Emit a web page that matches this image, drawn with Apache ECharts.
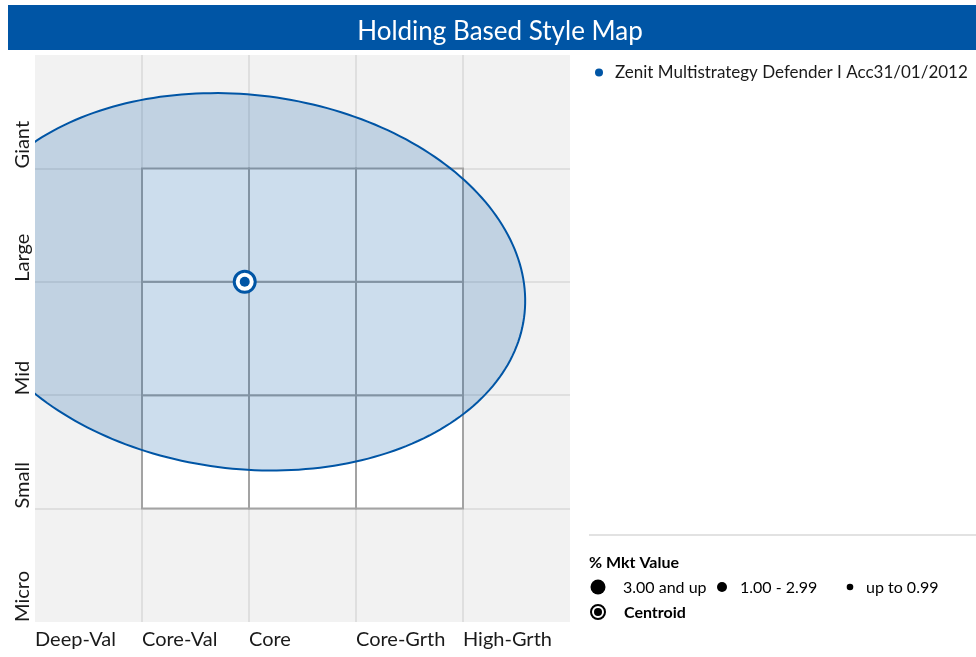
<!DOCTYPE html>
<html>
<head>
<meta charset="utf-8">
<title>Holding Based Style Map</title>
<script src="https://cdn.jsdelivr.net/npm/echarts@6/dist/echarts.min.js"></script>
<style>
  html, body { margin: 0; padding: 0; background: #fff; }
  #chart { width: 976px; height: 657px; }
</style>
</head>
<body>
<div id="chart"></div>
<script>
const styleLabels = ["Deep-Val", "Core-Val", "Core", "Core-Grth", "High-Grth"]
const sizeLabels = ["Micro", "Small", "Mid", "Large", "Giant"]

// core 3x3 box, cells as [styleIndex, sizeIndex]
const boxCells = [[1, 1], [2, 1], [3, 1], [1, 2], [2, 2], [3, 2], [1, 3], [2, 3], [3, 3]]

const fundName = "Zenit Multistrategy Defender I Acc31/01/2012"
// centroid in style / size units
const centroid = [1.96, 3.0]
// holdings ellipse: [cx, cy, semi-major, semi-minor, rotation in degrees]
const ellipse = [1.95, 3.0, 2.64, 1.65, -6]

const bucketLabels = ["3.00 and up", "1.00 - 2.99", "up to 0.99"]

const blue = "#0055a5"
const font = "Lato, 'Open Sans', sans-serif"

const chart = echarts.init(document.getElementById("chart"))

function renderCell(params, api) {
  const p0 = api.coord([api.value(0), api.value(1)])
  const p1 = api.coord([api.value(0) + 1, api.value(1) + 1])
  return {
    type: "rect",
    shape: { x: p0[0], y: p1[1], width: p1[0] - p0[0], height: p0[1] - p1[1] },
    style: { fill: "#fff", stroke: "#a3a3a3", lineWidth: 2 }
  }
}

function renderEllipse(params, api) {
  const cx = api.value(0)
  const cy = api.value(1)
  const a = api.value(2)
  const b = api.value(3)
  const rot = (api.value(4) * Math.PI) / 180
  const pts = []
  for (let i = 0; i < 240; i++) {
    const t = (i / 240) * Math.PI * 2
    const ex = a * Math.cos(t)
    const ey = b * Math.sin(t)
    pts.push(api.coord([
      cx + ex * Math.cos(rot) - ey * Math.sin(rot),
      cy + ex * Math.sin(rot) + ey * Math.cos(rot)
    ]))
  }
  return {
    type: "polygon",
    shape: { points: pts },
    style: { fill: "rgba(0, 85, 165, 0.2)", stroke: blue, lineWidth: 2 }
  }
}

const options = {
  animation: false,
  textStyle: { fontFamily: font },
  title: {
    text: "Holding Based Style Map",
    left: 495,
    top: 14,
    textAlign: "center",
    textStyle: { color: "#fff", fontSize: 26, fontWeight: "normal", fontFamily: font }
  },
  legend: {
    data: [fundName],
    left: 590,
    top: 59,
    icon: "circle",
    itemWidth: 14,
    itemHeight: 8,
    selectedMode: false,
    textStyle: { fontSize: 17, color: "#1a1a1a", padding: [0, 0, 0, 4], fontFamily: font }
  },
  grid: {
    left: 35,
    top: 55,
    width: 535,
    height: 567,
    show: true,
    backgroundColor: "#f2f2f2",
    borderWidth: 0
  },
  xAxis: {
    type: "value",
    min: 0,
    max: 5,
    interval: 1,
    axisLine: { show: false },
    axisTick: { show: false },
    splitLine: { show: true, showMinLine: false, showMaxLine: false, lineStyle: { color: "#d9d9d9", width: 1.5 } },
    axisLabel: {
      margin: 8,
      align: "left",
      fontSize: 20,
      color: "#1a1a1a",
      fontFamily: font,
      formatter: (v) => styleLabels[v] || ""
    }
  },
  yAxis: {
    type: "value",
    min: 0,
    max: 5,
    interval: 1,
    axisLine: { show: false },
    axisTick: { show: false },
    splitLine: { show: true, showMinLine: false, showMaxLine: false, lineStyle: { color: "#d9d9d9", width: 1.5 } },
    axisLabel: {
      margin: 12,
      rotate: 90,
      align: "left",
      verticalAlign: "middle",
      fontSize: 20,
      color: "#1a1a1a",
      fontFamily: font,
      formatter: (v) => sizeLabels[v] || ""
    }
  },
  series: [
    {
      name: "box",
      type: "custom",
      renderItem: renderCell,
      data: boxCells,
      z: 2,
      silent: true
    },
    {
      name: "ellipse",
      type: "custom",
      renderItem: renderEllipse,
      dimensions: ["x", "y", "a", "b", "rot"],
      encode: { x: 0, y: 1 },
      data: [ellipse],
      clip: true,
      z: 3,
      silent: true
    },
    {
      name: "centroid ring",
      type: "scatter",
      data: [centroid],
      symbolSize: 21,
      itemStyle: { color: "#fff", borderColor: blue, borderWidth: 3, opacity: 1 },
      z: 4,
      silent: true
    },
    {
      name: fundName,
      type: "scatter",
      data: [centroid],
      symbolSize: 10,
      itemStyle: { color: blue, opacity: 1 },
      z: 5,
      silent: true
    }
  ],
  graphic: [
    { type: "rect", shape: { x: 8, y: 5, width: 968, height: 45 }, style: { fill: blue }, z: -1 },
    { type: "line", shape: { x1: 589, y1: 535, x2: 976, y2: 535 }, style: { stroke: "#d9d9d9", lineWidth: 1.5 } },
    { type: "text", x: 589, y: 563, style: { text: "% Mkt Value", font: "bold 16px " + font, fill: "#000", textVerticalAlign: "middle" } },
    { type: "circle", shape: { cx: 598, cy: 587, r: 7.5 }, style: { fill: "#000" } },
    { type: "text", x: 623, y: 588, style: { text: bucketLabels[0], font: "16px " + font, fill: "#000", textVerticalAlign: "middle" } },
    { type: "circle", shape: { cx: 722, cy: 587, r: 5 }, style: { fill: "#000" } },
    { type: "text", x: 740, y: 588, style: { text: bucketLabels[1], font: "16px " + font, fill: "#000", textVerticalAlign: "middle" } },
    { type: "circle", shape: { cx: 850, cy: 587, r: 3.3 }, style: { fill: "#000" } },
    { type: "text", x: 866, y: 588, style: { text: bucketLabels[2], font: "16px " + font, fill: "#000", textVerticalAlign: "middle" } },
    { type: "circle", shape: { cx: 598, cy: 612, r: 7 }, style: { fill: "#fff", stroke: "#000", lineWidth: 2 } },
    { type: "circle", shape: { cx: 598, cy: 612, r: 4 }, style: { fill: "#000" } },
    { type: "text", x: 624, y: 613, style: { text: "Centroid", font: "bold 16px " + font, fill: "#000", textVerticalAlign: "middle" } }
  ]
}

chart.setOption(options)
</script>
</body>
</html>
